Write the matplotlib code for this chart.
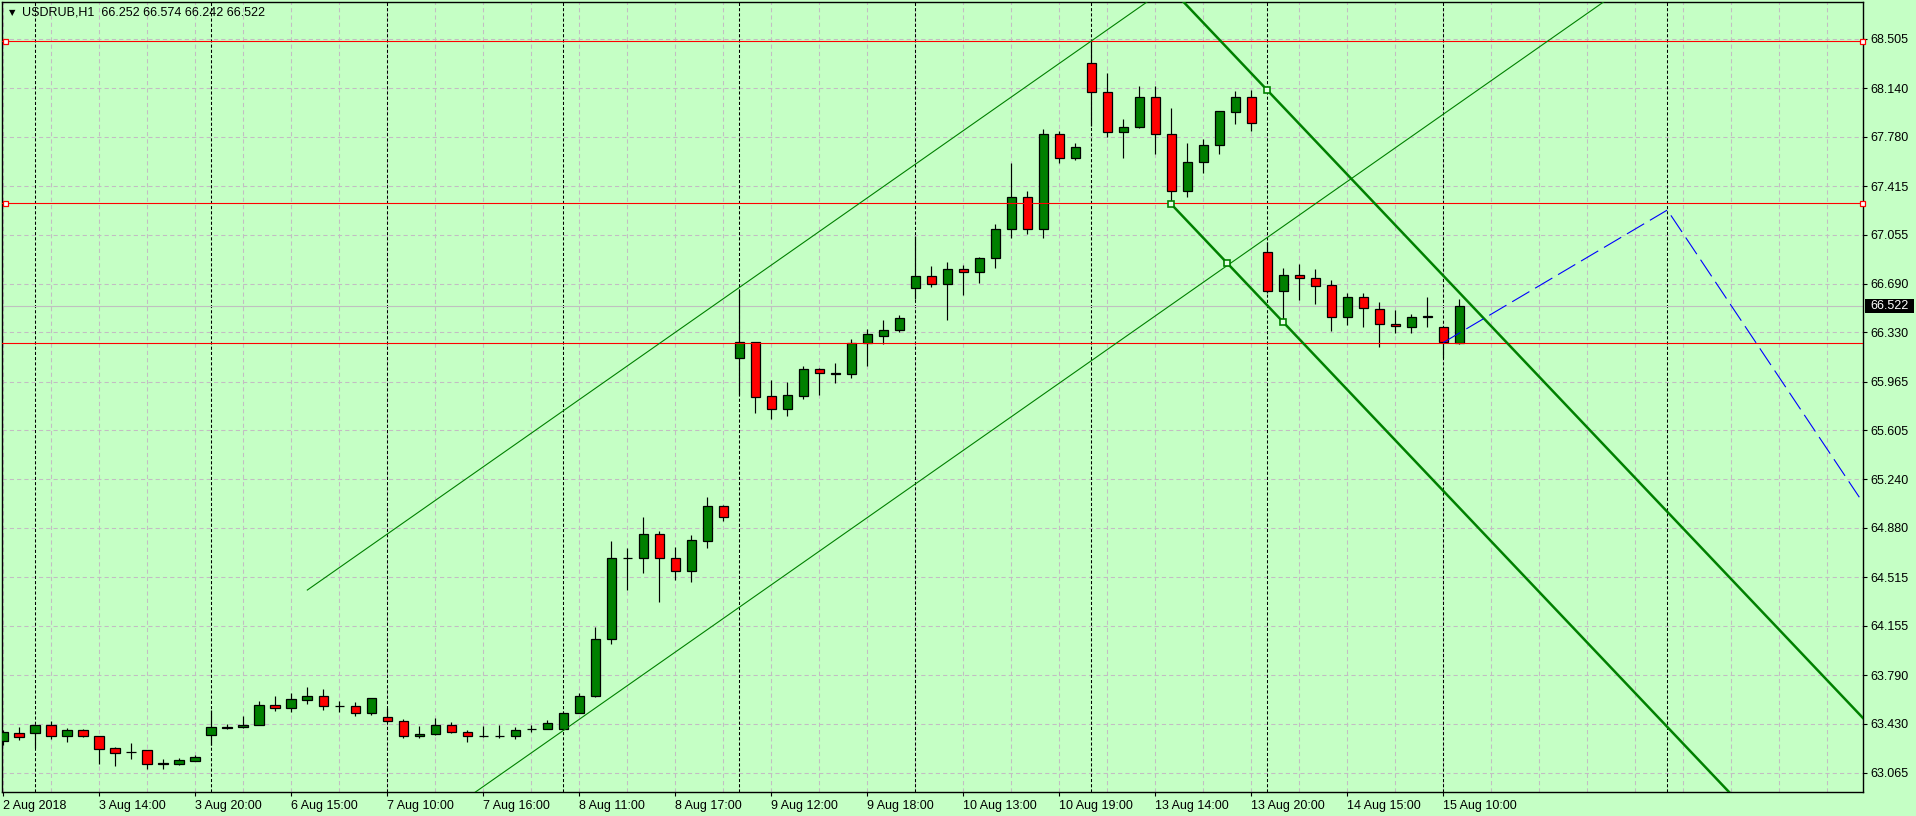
import matplotlib
matplotlib.use("Agg")
import matplotlib.pyplot as plt
from matplotlib.patches import Rectangle
from matplotlib.transforms import blended_transform_factory

# hourly USDRUB candles, 2 Aug 19:00 .. 15 Aug 11:00 (trading hours 10:00-20:00)
opens = [63.303, 63.361, 63.359, 63.420, 63.339, 63.379, 63.339, 63.246, 63.221, 63.232,
         63.136, 63.134, 63.153, 63.344, 63.398, 63.403, 63.418, 63.567, 63.545, 63.604,
         63.636, 63.560, 63.560, 63.508, 63.479, 63.450, 63.337, 63.352, 63.420, 63.369,
         63.340, 63.341, 63.339, 63.389, 63.391, 63.391, 63.508, 63.631, 64.060, 64.660,
         64.660, 64.833, 64.655, 64.563, 64.786, 65.043, 66.142, 66.258, 65.858, 65.759,
         65.861, 66.056, 66.026, 66.019, 66.249, 66.300, 66.345, 66.656, 66.748, 66.686,
         66.797, 66.775, 66.879, 67.099, 67.331, 67.094, 67.798, 67.620, 68.325, 68.109,
         67.813, 67.855, 68.072, 67.798, 67.376, 67.591, 67.717, 67.961, 68.072, 66.923,
         66.639, 66.753, 66.731, 66.679, 66.442, 66.590, 66.501, 66.392, 66.372, 66.445,
         66.367, 66.252]
highs = [63.386, 63.405, 63.422, 63.452, 63.398, 63.391, 63.341, 63.259, 63.288, 63.234,
         63.170, 63.173, 63.195, 63.533, 63.430, 63.484, 63.601, 63.636, 63.660, 63.702,
         63.685, 63.594, 63.589, 63.619, 63.545, 63.464, 63.415, 63.472, 63.445, 63.379,
         63.415, 63.423, 63.405, 63.420, 63.459, 63.513, 63.660, 64.147, 64.783, 64.729,
         64.964, 64.857, 64.741, 64.828, 65.112, 65.050, 66.644, 66.262, 65.977, 65.962,
         66.081, 66.066, 66.100, 66.278, 66.352, 66.422, 66.459, 67.044, 66.822, 66.849,
         66.829, 66.891, 67.130, 67.583, 67.378, 67.835, 67.823, 67.731, 68.497, 68.253,
         67.912, 68.154, 68.154, 67.993, 67.731, 67.764, 67.970, 68.119, 68.127, 66.998,
         66.805, 66.837, 66.800, 66.718, 66.620, 66.620, 66.553, 66.496, 66.466, 66.595,
         66.370, 66.574]
lows = [63.271, 63.307, 63.246, 63.317, 63.293, 63.332, 63.129, 63.117, 63.166, 63.097,
        63.097, 63.126, 63.151, 63.273, 63.391, 63.400, 63.416, 63.521, 63.513, 63.579,
        63.533, 63.513, 63.484, 63.494, 63.445, 63.322, 63.325, 63.347, 63.364, 63.293,
        63.332, 63.325, 63.317, 63.366, 63.389, 63.386, 63.506, 63.625, 64.020, 64.420,
        64.544, 64.333, 64.494, 64.482, 64.729, 64.934, 65.866, 65.735, 65.690, 65.712,
        65.838, 65.866, 65.957, 65.994, 66.083, 66.241, 66.330, 66.577, 66.669, 66.422,
        66.607, 66.693, 66.805, 67.032, 67.057, 67.032, 67.588, 67.608, 67.860, 67.776,
        67.625, 67.848, 67.652, 67.302, 67.336, 67.514, 67.655, 67.877, 67.825, 66.620,
        66.402, 66.570, 66.540, 66.343, 66.385, 66.372, 66.219, 66.328, 66.328, 66.372,
        66.140, 66.242]
closes = [63.369, 63.330, 63.420, 63.339, 63.379, 63.339, 63.244, 63.214, 63.217, 63.134,
          63.134, 63.158, 63.185, 63.405, 63.407, 63.420, 63.567, 63.545, 63.611, 63.636,
          63.557, 63.557, 63.508, 63.619, 63.447, 63.337, 63.354, 63.420, 63.366, 63.339,
          63.339, 63.339, 63.386, 63.391, 63.435, 63.508, 63.636, 64.060, 64.655, 64.658,
          64.833, 64.655, 64.563, 64.791, 65.043, 64.959, 66.258, 65.853, 65.759, 65.863,
          66.056, 66.026, 66.024, 66.249, 66.315, 66.345, 66.434, 66.748, 66.686, 66.797,
          66.775, 66.881, 67.099, 67.331, 67.094, 67.798, 67.620, 67.702, 68.109, 67.813,
          67.855, 68.077, 67.798, 67.376, 67.591, 67.717, 67.969, 68.072, 67.880, 66.639,
          66.753, 66.731, 66.676, 66.442, 66.590, 66.508, 66.390, 66.377, 66.447, 66.449,
          66.256, 66.522]

x_label_bars = [0, 6, 12, 18, 24, 30, 36, 42, 48, 54, 60, 66, 72, 78, 84, 90]
x_labels = ["2 Aug 2018", "3 Aug 14:00", "3 Aug 20:00", "6 Aug 15:00", "7 Aug 10:00",
            "7 Aug 16:00", "8 Aug 11:00", "8 Aug 17:00", "9 Aug 12:00", "9 Aug 18:00",
            "10 Aug 13:00", "10 Aug 19:00", "13 Aug 14:00", "13 Aug 20:00",
            "14 Aug 15:00", "15 Aug 10:00"]
y_ticks = [68.505, 68.140, 67.780, 67.415, 67.055, 66.690, 66.330, 65.965,
           65.605, 65.240, 64.880, 64.515, 64.155, 63.790, 63.430, 63.065]

day_separators = [2, 13, 24, 35, 46, 57, 68, 79, 90, 104]
red_levels = [68.490, 67.287, 66.252]
bid = 66.522

# equidistant channels: two anchor points + parallel offset
thin_ch = [(19, 64.420), (68, 68.490), -2.37]
thick_ch = [(73, 67.280), (80, 66.405), 1.595]
# forecast zigzag
fc_x = [90, 104, 116]
fc_y = [66.255, 67.237, 65.108]

BG = "#c5ffc5"
GRID = "#c3bcc3"
GREEN = "#008000"

fig = plt.figure(figsize=(19.16, 8.16), dpi=100, facecolor=BG)
ax = fig.add_axes([2 / 1916, 24 / 816, 1861 / 1916, 790 / 816], facecolor=BG)
ax.set_xlim(-0.081, 116.23)
ax.set_ylim(62.923, 68.779)

# grid
for y in y_ticks:
    ax.axhline(y, color=GRID, lw=0.75, ls=(0, (4, 3)), zorder=0.5)
for gx in range(0, 117, 3):
    ax.axvline(gx, color=GRID, lw=0.75, ls=(0, (4, 3)), zorder=0.5)
for sx in day_separators:
    ax.axvline(sx, color="black", lw=0.75, ls=(0, (3, 2)), zorder=0.8)

# candles
w = 0.6
for i in range(len(opens)):
    o, h, l, c = opens[i], highs[i], lows[i], closes[i]
    ax.plot([i, i], [l, h], color="black", lw=0.85, zorder=2, solid_capstyle="butt")
    col = GREEN if c >= o else "#ff0000"
    lo, hi = min(o, c), max(o, c)
    ax.add_patch(Rectangle((i - w / 2, lo), w, hi - lo, facecolor=col,
                           edgecolor="black", lw=0.9, zorder=3))

# horizontal levels
for lv in red_levels:
    ax.axhline(lv, color="#ff0000", lw=0.8, zorder=4)
ax.axhline(bid, color="#c0c0c0", lw=0.8, zorder=1.5)
bt = blended_transform_factory(ax.transAxes, ax.transData)
for lv in red_levels[:2]:
    ax.plot([0.0016, 0.9992], [lv, lv], ls="none", marker="s", ms=3.6, mfc="white",
            mec="#ff0000", mew=0.9, transform=bt, clip_on=False, zorder=6)


def channel(ch, lw):
    (x1, y1), (x2, y2), off = ch
    k = (y2 - y1) / (x2 - x1)
    xe = 140
    ax.plot([x1, xe], [y1, y1 + k * (xe - x1)], color=GREEN, lw=lw, zorder=5)
    ax.plot([x1, xe], [y1 + off, y1 + off + k * (xe - x1)], color=GREEN, lw=lw, zorder=5)
    return k


channel(thin_ch, 0.8)
k = channel(thick_ch, 1.8)
(tx1, ty1), (tx2, ty2), toff = thick_ch
mx = [tx1, (tx1 + tx2) / 2, tx2, tx2 - 1]
my = [ty1, ty1 + k * (mx[1] - tx1), ty2, ty1 + k * (mx[3] - tx1) + toff]
ax.plot(mx, my, ls="none", marker="s", ms=4, mfc="#e8ffe8", mec=GREEN, mew=1.2, zorder=7)

ax.plot(fc_x, fc_y, color="#0000ff", lw=0.8, ls=(0, (18, 6)), zorder=6)

# axes frame and ticks
for sp in ax.spines.values():
    sp.set_color("black")
    sp.set_linewidth(1.0)
ax.yaxis.tick_right()
ax.set_yticks(y_ticks)
ax.set_yticklabels(["%.3f" % v for v in y_ticks])
ax.set_xticks(x_label_bars)
ax.set_xticklabels(x_labels, ha="left")
ax.tick_params(axis="both", length=3, width=0.8, color="black", labelsize=9,
               labelcolor="black")
ax.tick_params(axis="y", pad=2)
ax.tick_params(axis="x", pad=2.8)
for t in ax.get_xticklabels() + ax.get_yticklabels():
    t.set_fontfamily("Liberation Sans")

# current price box
ax.add_patch(Rectangle((1.0011, bid - 0.052), 0.0263, 0.104, facecolor="black",
                       edgecolor="none", transform=bt, clip_on=False, zorder=8))
ax.text(1.0037, bid, "%.3f" % bid, color="white", fontsize=9, family="Liberation Sans",
        va="center", ha="left", transform=bt, clip_on=False, zorder=9)

# header
fig.text(9 / 1916, 1 - 12.5 / 816, "\u25bc", fontsize=6, family="DejaVu Sans",
         va="center", ha="left")
fig.text(22 / 1916, 1 - 12.7 / 816, "USDRUB,H1  %.3f %.3f %.3f %.3f" %
         (opens[-1], highs[-1], lows[-1], closes[-1]),
         fontsize=9, family="Liberation Sans", va="center", ha="left")

fig.savefig("out.png", dpi=100, facecolor=BG)
